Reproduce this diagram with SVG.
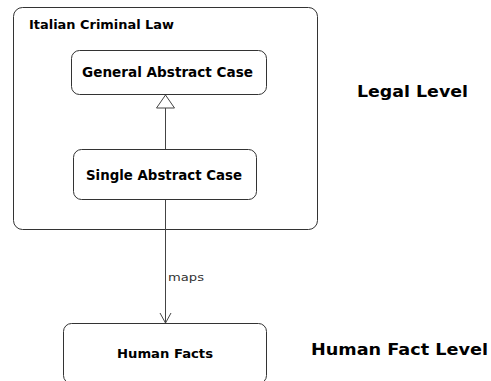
<svg xmlns="http://www.w3.org/2000/svg" width="491" height="381" viewBox="0 0 491 381">
<style>
.box{fill:#fff;stroke:#333;stroke-width:1}
.t{font-family:"DejaVu Sans","Liberation Sans",sans-serif;font-weight:bold;fill:#000}
.e{stroke:#444;stroke-width:1;fill:none}
</style>
<rect width="491" height="381" fill="#fff"/>
<g id="italian-criminal-law">
<rect class="box" x="13.5" y="7.5" width="304" height="222" rx="9"/>
<text class="t" x="29" y="29" font-size="12" textLength="145" lengthAdjust="spacingAndGlyphs">Italian Criminal Law</text>
</g>
<g id="general-abstract-case">
<rect class="box" x="71.5" y="50.5" width="195" height="44" rx="8"/>
<text class="t" x="82" y="77" font-size="14" textLength="171" lengthAdjust="spacingAndGlyphs">General Abstract Case</text>
</g>
<g id="single-abstract-case">
<rect class="box" x="73.5" y="149.5" width="183" height="50" rx="8"/>
<text class="t" x="86" y="180" font-size="14" textLength="156" lengthAdjust="spacingAndGlyphs">Single Abstract Case</text>
</g>
<g id="human-facts">
<rect class="box" x="63.5" y="323.5" width="203" height="60" rx="8"/>
<text class="t" x="117" y="358" font-size="13" textLength="96" lengthAdjust="spacingAndGlyphs">Human Facts</text>
</g>
<g id="legal-level">
<text class="t" x="357" y="97" font-size="16" textLength="111" lengthAdjust="spacingAndGlyphs">Legal Level</text>
</g>
<g id="human-fact-level">
<text class="t" x="311" y="355" font-size="16" textLength="177" lengthAdjust="spacingAndGlyphs">Human Fact Level</text>
</g>
<g id="connectors">
<line class="e" x1="165.5" y1="149" x2="165.5" y2="108"/>
<polygon points="165.5,95 156.5,108 174.5,108" fill="#fff" stroke="#444" stroke-width="1"/>
<line class="e" x1="165.5" y1="200" x2="165.5" y2="323"/>
<polyline class="e" points="160,313 165.5,323 171,313"/>
<text x="168" y="281" font-family="DejaVu Sans,Liberation Sans,sans-serif" font-size="11" fill="#333" textLength="36" lengthAdjust="spacingAndGlyphs">maps</text>
</g>
</svg>
